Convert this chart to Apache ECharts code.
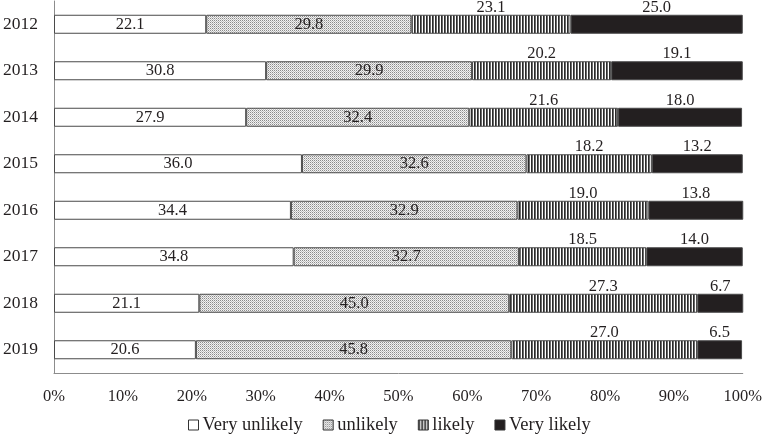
<!DOCTYPE html>
<html><head><meta charset="utf-8">
<script src="https://cdn.jsdelivr.net/npm/echarts@6/dist/echarts.min.js"></script>
<style>html,body{margin:0;padding:0;background:#fff}#c{width:765px;height:435px}</style>
</head><body><div id="c"></div>
<script>
const years = ['2012','2013','2014','2015','2016','2017','2018','2019'];
const veryUnlikely = [22.1,30.8,27.9,36.0,34.4,34.8,21.1,20.6];
const unlikely = [29.8,29.9,32.4,32.6,32.9,32.7,45.0,45.8];
const likely = [23.1,20.2,21.6,18.2,19.0,18.5,27.3,27.0];
const veryLikely = [25.0,19.1,18.0,13.2,13.8,14.0,6.7,6.5];
const seriesNames = ['Very unlikely','unlikely','likely','Very likely'];
const xTicks = [0,10,20,30,40,50,60,70,80,90,100];

function makePattern(w,h,draw){const c=document.createElement('canvas');c.width=w;c.height=h;const g=c.getContext('2d');draw(g);return c;}
const dots = makePattern(2,2,g=>{g.fillStyle='#f2f2f2';g.fillRect(0,0,2,2);g.fillStyle='#8a8a8a';g.fillRect(0,0,1,1);g.fillStyle='#c0c0c0';g.fillRect(1,1,1,1);});
const stripes = makePattern(3,3,g=>{g.fillStyle='#ffffff';g.fillRect(0,0,3,3);g.fillStyle='#2a2a2a';g.fillRect(0,0,1,3);g.fillStyle='#6a6a6a';g.fillRect(1,0,1,3);});
const fills = ['#ffffff',{image:dots,repeat:'repeat'},{image:stripes,repeat:'repeat'},'#231f20'];
const legendFills = ['#ffffff',{image:dots,repeat:'repeat'},{image:stripes,repeat:'repeat'},'#231f20'];
const datas = [veryUnlikely,unlikely,likely,veryLikely];
const font = '"Liberation Serif","Times New Roman",serif';

const series = datas.map((d,i)=>({
  name: seriesNames[i], type:'bar', stack:'all', barWidth:19,
  data: d,
  itemStyle:{color:fills[i], borderColor:'#4a4a4a', borderWidth:1},
  label:{show:true, position: i<2?'inside':'top', distance: i<2?0:-1,
    color:'#231f20', fontFamily:font, fontSize:16.5,
    formatter:p=>p.value.toFixed(1)},
  emphasis:{disabled:true}
}));

const chart = echarts.init(document.getElementById('c'),null,{renderer:'canvas'});
chart.setOption({
  animation:false,
  grid:{left:53,right:22,top:1,bottom:62,containLabel:false},
  legend:{
    top:415, left:188, itemWidth:10, itemHeight:10, itemGap:20,
    icon:'rect', padding:0,
    textStyle:{fontFamily:font,fontSize:18.5,color:'#231f20',lineHeight:20,padding:[0,0,0,-1]},
    data: seriesNames.map((n,i)=>({name:n,itemStyle:{color:legendFills[i],borderColor:'#333',borderWidth:1}}))
  },
  xAxis:{type:'value',min:0,max:100,interval:10,
    axisLine:{show:true,lineStyle:{color:'#8c8c8c',width:1}},
    axisTick:{show:false}, splitLine:{show:false},
    axisLabel:{fontFamily:font,fontSize:16.5,color:'#231f20',margin:15,
      formatter:v=>xTicks.includes(v)?v+'%':''}
  },
  yAxis:{type:'category',data:years,inverse:true,
    axisLine:{show:true,lineStyle:{color:'#8c8c8c',width:1}},
    axisTick:{show:false},
    axisLabel:{fontFamily:font,fontSize:17.5,color:'#231f20',margin:16}
  },
  series
});
</script></body></html>
